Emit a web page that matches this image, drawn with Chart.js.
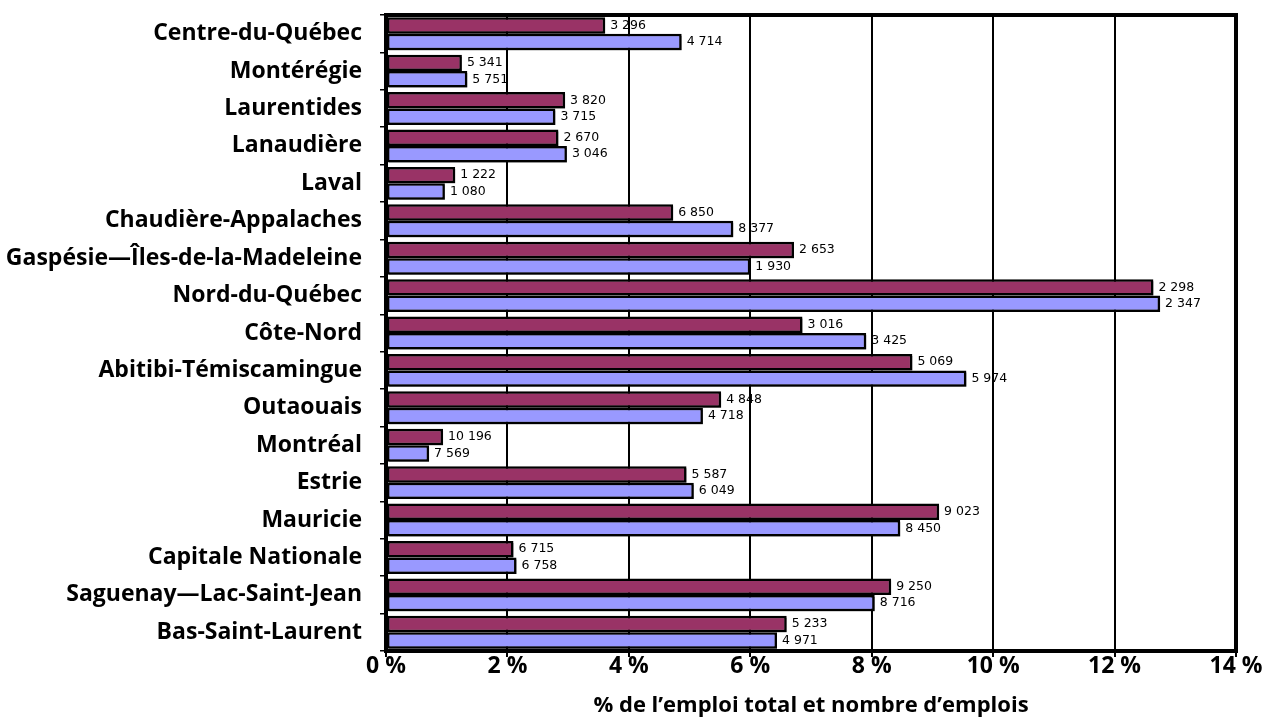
<!DOCTYPE html>
<html>
<head>
<meta charset="utf-8">
<script src="https://cdn.jsdelivr.net/npm/chart.js@4/dist/chart.umd.min.js"></script>
<style>
    html, body { margin: 0; padding: 0; background: #fff; }
    #wrap { width: 1272px; height: 723px; }
</style>
</head>
<body>
<div id="wrap"><canvas id="chart" width="1272" height="723"></canvas></div>
<script>
// regions, top to bottom
const regions = [
    "Centre-du-Québec", "Montérégie", "Laurentides", "Lanaudière", "Laval",
    "Chaudière-Appalaches", "Gaspésie—Îles-de-la-Madeleine", "Nord-du-Québec",
    "Côte-Nord", "Abitibi-Témiscamingue", "Outaouais", "Montréal", "Estrie",
    "Mauricie", "Capitale Nationale", "Saguenay—Lac-Saint-Jean", "Bas-Saint-Laurent"
];

// % of total employment (first series = maroon, second = lavender)
const shareFirst = [3.61, 1.25, 2.95, 2.84, 1.14, 4.73, 6.72, 12.64, 6.86, 8.67, 5.52, 0.94, 4.95, 9.11, 2.10, 8.32, 6.60];
const shareSecond = [4.87, 1.34, 2.79, 2.98, 0.97, 5.72, 6.00, 12.75, 7.91, 9.56, 5.22, 0.71, 5.07, 8.47, 2.15, 8.05, 6.44];

// number of jobs shown next to the bars
const jobsFirst = [3296, 5341, 3820, 2670, 1222, 6850, 2653, 2298, 3016, 5069, 4848, 10196, 5587, 9023, 6715, 9250, 5233];
const jobsSecond = [4714, 5751, 3715, 3046, 1080, 8377, 1930, 2347, 3425, 5974, 4718, 7569, 6049, 8450, 6758, 8716, 4971];

const xMax = 14;
const xStep = 2;
const axisTitle = "% de l’emploi total et nombre d’emplois";

function fmtJobs(n) {
    return String(n).replace(/\B(?=(\d{3})+(?!\d))/g, " ");
}

const jobLabels = [jobsFirst, jobsSecond];

const decorPlugin = {
    id: "decor",
    beforeDatasetsDraw(chart) {
        const ctx = chart.ctx;
        ctx.save();
        ctx.shadowColor = "rgba(0,0,0,0.45)";
        ctx.shadowOffsetX = 2;
        ctx.shadowOffsetY = 2;
        ctx.shadowBlur = 0;
    },
    afterDatasetsDraw(chart) {
        const ctx = chart.ctx;
        ctx.restore();
        const a = chart.chartArea;
        // plot frame
        ctx.save();
        ctx.strokeStyle = "#000";
        ctx.lineWidth = 4;
        ctx.strokeRect(a.left, a.top, a.right - a.left, a.bottom - a.top);
        ctx.restore();
        // job counts
        ctx.save();
        ctx.font = "12.5px 'DejaVu Sans'";
        ctx.fillStyle = "#000";
        ctx.textBaseline = "middle";
        ctx.textAlign = "left";
        chart.data.datasets.forEach((ds, i) => {
            const meta = chart.getDatasetMeta(i);
            meta.data.forEach((bar, j) => {
                ctx.fillText(fmtJobs(jobLabels[i][j]), bar.x + 5, bar.y);
            });
        });
        ctx.restore();
    }
};

new Chart(document.getElementById("chart"), {
    type: "bar",
    data: {
        labels: regions,
        datasets: [{
            data: shareFirst,
            backgroundColor: "#993366",
            borderColor: "#000",
            borderWidth: 2.5,
            borderSkipped: false
        }, {
            data: shareSecond,
            backgroundColor: "#9999FF",
            borderColor: "#000",
            borderWidth: 2.5,
            borderSkipped: false
        }]
    },
    options: {
        indexAxis: "y",
        responsive: false,
        animation: false,
        layout: { padding: { top: 15, right: 36, left: 0, bottom: 0 } },
        datasets: { bar: { categoryPercentage: 0.88, barPercentage: 1 } },
        plugins: {
            legend: { display: false },
            tooltip: { enabled: false }
        },
        scales: {
            x: {
                min: 0,
                max: xMax,
                ticks: {
                    stepSize: xStep,
                    color: "#000",
                    padding: -2,
                    font: { family: "'Open Sans'", size: 23, weight: "bold", lineHeight: 1 },
                    callback: v => v + " %"
                },
                grid: { color: "#000", lineWidth: 2, tickLength: 6 },
                border: { display: false },
                title: {
                    display: true,
                    text: axisTitle,
                    color: "#000",
                    font: { family: "'Open Sans'", size: 22, weight: "bold", lineHeight: 1 },
                    padding: { top: 0, bottom: 6 }
                },
                afterFit(scale) { scale.height = 72; }
            },
            y: {
                ticks: {
                    color: "#000",
                    padding: 18,
                    font: { family: "'Open Sans'", size: 23, weight: "bold", lineHeight: 1 }
                },
                grid: { display: true, drawOnChartArea: false, color: "#000", lineWidth: 1.5, tickLength: 6 },
                border: { display: false },
                afterFit(scale) {
                    scale.width = 386;
                    scale.paddingTop = 0;
                    scale.paddingBottom = 0;
                }
            }
        }
    },
    plugins: [decorPlugin]
});
</script>
</body>
</html>
